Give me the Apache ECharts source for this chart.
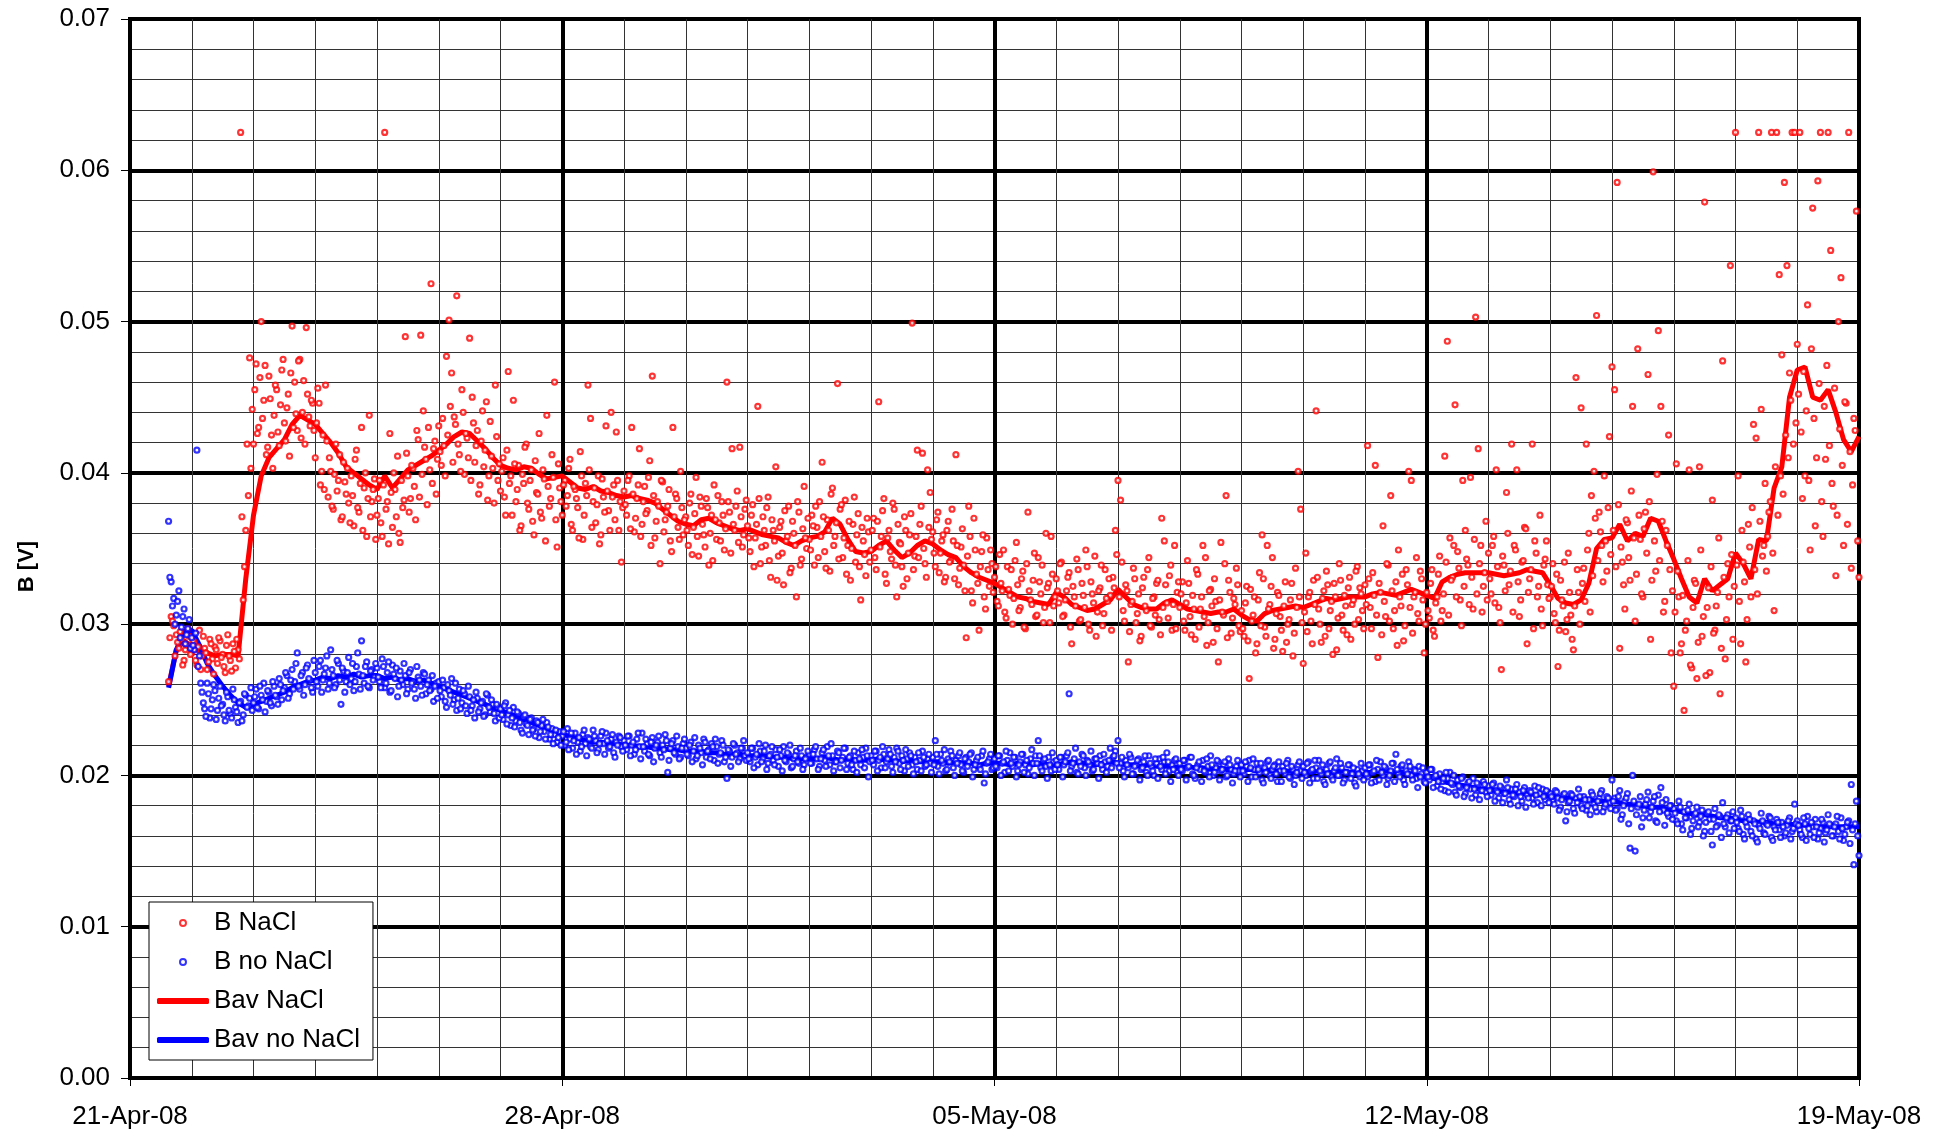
<!DOCTYPE html>
<html>
<head>
<meta charset="utf-8">
<script src="https://cdn.jsdelivr.net/npm/echarts/dist/echarts.min.js"></script>
<style>
html,body{margin:0;padding:0;background:#fff;}
#chart{width:1945px;height:1133px;}
</style>
</head>
<body>
<div id="chart"></div>
<script>
// x tick labels (every 7 days from 21-Apr-08)
const dateLabels = ['21-Apr-08', '28-Apr-08', '05-May-08', '12-May-08', '19-May-08'];
// first sample: 21-Apr-08 15:00 (in days after 21-Apr-08 00:00)
const startDay = 0.625;
const hourStep = 1 / 24;   // raw readings: on the hour and on the half hour
const halfOffset = 1 / 48;
const avgStep = 3 / 24;    // running averages: 3-hourly

// B NaCl [V], readings on the hour
const bNaCl = [
.0262,.0305,.0299,.0293,.0284,.0290,.0276,.0286,.0292,
.0281,.0288,.0273,.0296,.0279,.0284,.0270,.0290,.0277,.0285,.0274,.0289,.0280,.0268,.0293,.0276,.0287,.0271,.0283,.0625,.0316,.0362,.0385,.0403,
.0419,.0472,.0430,.0500,.0448,.0412,.0464,.0425,.0438,.0455,.0418,.0468,.0433,.0443,.0411,.0497,.0460,.0428,.0475,.0440,.0419,.0452,.0431,.0446,
.0410,.0456,.0392,.0425,.0458,.0384,.0401,.0376,.0419,.0395,.0369,.0407,.0386,.0380,.0398,.0365,.0415,.0374,.0430,.0390,.0358,.0438,.0381,.0396,
.0372,.0395,.0358,.0625,.0381,.0426,.0364,.0389,.0411,.0354,.0377,.0490,.0398,.0383,.0403,.0369,.0422,.0491,.0441,.0409,.0430,.0525,.0416,.0386,
.0431,.0405,.0418,.0477,.0501,.0466,.0437,.0517,.0412,.0455,.0399,.0423,.0489,.0450,.0407,.0428,.0392,.0441,.0415,.0382,.0434,.0403,.0458,.0395,
.0388,.0410,.0372,.0467,.0398,.0448,.0381,.0405,.0365,.0393,.0419,.0376,.0402,.0359,.0387,.0426,.0370,.0396,.0438,.0378,.0412,.0460,.0351,.0390,
.0372,.0395,.0385,.0409,.0362,.0389,.0377,.0414,.0356,.0393,.0458,.0436,.0381,.0367,.0398,.0359,.0384,.0431,.0375,.0440,.0392,.0427,.0362,.0341,
.0388,.0372,.0398,.0430,.0361,.0383,.0416,.0366,.0391,.0375,.0408,.0464,.0357,.0381,.0340,.0394,.0369,.0378,.0355,.0430,.0386,.0364,.0401,.0359,
.0371,.0352,.0386,.0364,.0397,.0345,.0378,.0359,.0383,.0339,.0372,.0392,.0356,.0367,.0381,.0349,.0460,.0374,.0416,.0362,.0388,.0417,.0351,.0376,
.0365,.0348,.0379,.0357,.0444,.0340,.0371,.0352,.0384,.0331,.0362,.0404,.0345,.0368,.0326,.0355,.0378,.0337,.0360,.0318,.0374,.0343,.0391,.0350,
.0356,.0372,.0339,.0364,.0381,.0407,.0348,.0369,.0335,.0390,.0358,.0459,.0376,.0344,.0382,.0352,.0329,.0366,.0341,.0373,.0316,.0355,.0332,.0361,
.0349,.0370,.0336,.0447,.0358,.0383,.0327,.0362,.0343,.0376,.0318,.0354,.0338,.0371,.0330,.0359,.0499,.0345,.0415,.0366,.0413,.0340,.0402,.0387,
.0361,.0338,.0374,.0347,.0359,.0331,.0368,.0342,.0355,.0412,.0326,.0351,.0339,.0291,.0378,.0322,.0370,.0333,.0296,.0348,.0318,.0357,.0325,.0340,
.0331,.0315,.0346,.0322,.0308,.0338,.0319,.0300,.0342,.0326,.0311,.0335,.0297,.0374,.0316,.0329,.0305,.0344,.0320,.0301,.0360,.0327,.0358,.0312,
.0330,.0314,.0341,.0306,.0322,.0334,.0287,.0318,.0343,.0302,.0327,.0311,.0338,.0296,.0320,.0345,.0308,.0324,.0299,.0336,.0315,.0319,.0331,.0362,
.0395,.0382,.0309,.0326,.0275,.0313,.0337,.0301,.0320,.0292,.0331,.0309,.0344,.0298,.0318,.0327,.0303,.0370,.0355,.0314,.0332,.0296,.0352,.0321,
.0311,.0328,.0296,.0342,.0305,.0319,.0290,.0333,.0310,.0352,.0344,.0301,.0323,.0288,.0315,.0275,.0354,.0306,.0385,.0329,.0294,.0317,.0337,.0299,
.0309,.0292,.0325,.0264,.0302,.0318,.0287,.0334,.0359,.0298,.0352,.0313,.0344,.0290,.0321,.0305,.0282,.0328,.0300,.0316,.0279,.0337,.0401,.0376,
.0274,.0347,.0318,.0302,.0329,.0441,.0310,.0288,.0322,.0335,.0297,.0315,.0327,.0283,.0340,.0306,.0319,.0293,.0331,.0313,.0300,.0338,.0324,.0309,
.0326,.0418,.0311,.0334,.0405,.0278,.0321,.0365,.0305,.0339,.0385,.0297,.0328,.0349,.0312,.0289,.0336,.0401,.0395,.0318,.0344,.0302,.0330,.0281,
.0321,.0304,.0336,.0292,.0318,.0345,.0309,.0411,.0487,.0357,.0331,.0445,.0348,.0316,.0395,.0362,.0339,.0397,.0310,.0503,.0416,.0352,.0325,.0368,
.0347,.0320,.0358,.0402,.0311,.0270,.0339,.0387,.0326,.0419,.0352,.0402,.0305,.0341,.0364,.0287,.0330,.0419,.0355,.0318,.0372,.0299,.0343,.0326,
.0318,.0340,.0301,.0272,.0329,.0312,.0295,.0347,.0306,.0283,.0463,.0321,.0443,.0337,.0419,.0360,.0385,.0401,.0504,.0374,.0352,.0398,.0335,.0424,
.0470,.0455,.0592,.0284,.0341,.0310,.0367,.0329,.0444,.0302,.0482,.0356,.0318,.0374,.0465,.0290,.0599,.0335,.0494,.0444,.0308,.0362,.0425,.0281,
.0259,.0406,.0318,.0287,.0243,.0302,.0402,.0271,.0329,.0264,.0404,.0292,.0579,.0311,.0268,.0382,.0296,.0321,.0254,.0474,.0277,.0340,.0537,.0290,
.0625,.0398,.0287,.0341,.0275,.0366,.0318,.0432,.0423,.0625,.0442,.0352,.0335,.0374,.0625,.0309,.0625,.0531,.0478,.0592,.0537,.0466,.0625,.0625,
.0485,.0625,.0383,.0398,.0511,.0349,.0575,.0365,.0593,.0625,.0358,.0409,.0625,.0547,.0378,.0332,.0500,.0529,.0352,.0446,.0625,.0337,.0436,.0573,
.0331
];

// B NaCl [V], readings on the half hour
const bNaClHalf = [
.0291,.0302,.0279,.0288,.0295,.0273,.0283,.0297,.0280,
.0289,.0276,.0285,.0270,.0292,.0281,.0275,.0287,.0267,.0283,.0291,.0278,.0272,.0286,.0279,.0269,.0282,.0290,.0277,.0371,.0338,.0419,.0476,.0442,
.0455,.0426,.0463,.0436,.0471,.0417,.0449,.0403,.0458,.0427,.0445,.0475,.0421,.0452,.0466,.0430,.0439,.0474,.0423,.0461,.0496,.0437,.0448,.0428,
.0433,.0446,.0401,.0389,.0421,.0410,.0378,.0399,.0388,.0412,.0371,.0394,.0403,.0367,.0385,.0409,.0377,.0393,.0362,.0400,.0383,.0371,.0389,.0356,
.0383,.0367,.0392,.0376,.0353,.0387,.0400,.0371,.0360,.0395,.0382,.0413,.0374,.0405,.0391,.0428,.0384,.0399,.0417,.0379,.0402,.0393,.0421,.0409,
.0414,.0436,.0398,.0425,.0444,.0407,.0432,.0419,.0401,.0440,.0426,.0410,.0395,.0433,.0418,.0386,.0421,.0404,.0447,.0398,.0411,.0380,.0424,.0406,
.0401,.0384,.0415,.0393,.0372,.0406,.0389,.0362,.0399,.0417,.0380,.0395,.0368,.0408,.0386,.0374,.0402,.0355,.0391,.0383,.0397,.0369,.0406,.0381,
.0392,.0378,.0403,.0366,.0391,.0383,.0357,.0398,.0372,.0385,.0402,.0364,.0390,.0379,.0353,.0396,.0374,.0388,.0362,.0384,.0369,.0395,.0381,.0377,
.0379,.0395,.0363,.0386,.0370,.0392,.0358,.0381,.0373,.0397,.0352,.0385,.0368,.0378,.0395,.0361,.0374,.0389,.0348,.0371,.0383,.0356,.0377,.0369,
.0362,.0380,.0346,.0373,.0358,.0384,.0366,.0351,.0377,.0360,.0342,.0369,.0385,.0355,.0372,.0363,.0381,.0347,.0366,.0378,.0354,.0371,.0359,.0382,
.0357,.0372,.0338,.0366,.0383,.0351,.0362,.0377,.0342,.0369,.0355,.0329,.0364,.0347,.0375,.0358,.0334,.0368,.0352,.0381,.0339,.0363,.0357,.0370,
.0349,.0365,.0378,.0344,.0358,.0371,.0337,.0362,.0386,.0352,.0367,.0343,.0379,.0357,.0333,.0368,.0350,.0384,.0359,.0338,.0364,.0346,.0370,.0341,
.0362,.0344,.0368,.0351,.0375,.0333,.0357,.0348,.0380,.0339,.0366,.0353,.0325,.0362,.0347,.0373,.0336,.0358,.0344,.0378,.0350,.0331,.0364,.0356,
.0347,.0369,.0334,.0355,.0328,.0362,.0341,.0376,.0330,.0352,.0337,.0363,.0322,.0345,.0358,.0314,.0349,.0327,.0338,.0359,.0310,.0336,.0349,.0321,
.0338,.0312,.0327,.0349,.0304,.0323,.0336,.0317,.0354,.0309,.0330,.0298,.0340,.0322,.0313,.0347,.0306,.0328,.0339,.0311,.0324,.0301,.0333,.0318,
.0322,.0340,.0305,.0316,.0331,.0298,.0325,.0312,.0336,.0303,.0319,.0349,.0300,.0328,.0314,.0292,.0322,.0339,.0307,.0317,.0330,.0296,.0324,.0346,
.0318,.0341,.0302,.0322,.0295,.0315,.0330,.0307,.0289,.0324,.0312,.0336,.0299,.0317,.0306,.0329,.0293,.0311,.0326,.0304,.0339,.0313,.0297,.0328,
.0320,.0302,.0314,.0327,.0293,.0310,.0336,.0298,.0318,.0305,.0286,.0322,.0312,.0330,.0297,.0316,.0308,.0340,.0291,.0321,.0304,.0313,.0326,.0295,
.0297,.0314,.0289,.0323,.0306,.0281,.0316,.0299,.0330,.0292,.0310,.0325,.0284,.0307,.0319,.0296,.0312,.0288,.0303,.0327,.0294,.0311,.0318,.0301,
.0308,.0295,.0321,.0287,.0313,.0331,.0300,.0317,.0292,.0326,.0309,.0280,.0318,.0304,.0329,.0296,.0312,.0324,.0290,.0316,.0335,.0303,.0320,.0297,
.0313,.0330,.0297,.0319,.0306,.0327,.0293,.0315,.0340,.0302,.0322,.0309,.0286,.0318,.0333,.0299,.0326,.0311,.0294,.0321,.0307,.0335,.0316,.0300,
.0309,.0327,.0296,.0314,.0333,.0302,.0320,.0341,.0306,.0329,.0352,.0318,.0337,.0299,.0325,.0343,.0313,.0331,.0356,.0320,.0340,.0308,.0334,.0316,
.0330,.0352,.0314,.0338,.0301,.0345,.0322,.0360,.0335,.0308,.0349,.0328,.0316,.0342,.0363,.0321,.0336,.0297,.0347,.0325,.0310,.0339,.0355,.0317,
.0325,.0307,.0333,.0296,.0316,.0341,.0303,.0321,.0290,.0312,.0336,.0300,.0327,.0315,.0349,.0308,.0332,.0370,.0342,.0361,.0328,.0355,.0377,.0346,
.0362,.0338,.0379,.0351,.0326,.0369,.0344,.0388,.0357,.0333,.0372,.0320,.0363,.0347,.0381,.0329,.0355,.0399,.0342,.0368,.0315,.0352,.0336,.0322,
.0308,.0335,.0281,.0319,.0296,.0342,.0273,.0311,.0327,.0288,.0349,.0305,.0266,.0324,.0338,.0294,.0312,.0357,.0284,.0331,.0303,.0318,.0346,.0325,
.0339,.0315,.0362,.0328,.0303,.0351,.0377,.0336,.0320,.0368,.0345,.0393,.0358,.0381,.0347,.0404,.0372,.0398,.0386,.0425,.0410,.0448,.0419,.0433,
.0452,.0427,.0467,.0441,.0395,.0482,.0436,.0410,.0459,.0381,.0444,.0471,.0418,.0393,.0456,.0372,.0429,.0405,.0447,.0366,.0414,.0392,.0428,.0355
];

// B no NaCl [V], readings on the hour
const bNoNaCl = [
.0368,.0328,.0317,.0306,.0322,.0298,.0310,.0293,.0303,
.0291,.0283,.0415,.0279,.0255,.0244,.0261,.0238,.0250,.0256,.0243,.0259,.0247,.0236,.0252,.0241,.0257,.0245,.0235,.0249,.0240,.0253,.0246,.0258,
.0248,.0257,.0244,.0253,.0261,.0249,.0255,.0246,.0259,.0252,.0264,.0250,.0258,.0266,.0254,.0270,.0262,.0281,.0257,.0268,.0260,.0273,.0263,.0255,
.0268,.0259,.0276,.0263,.0271,.0257,.0283,.0266,.0260,.0274,.0247,.0269,.0262,.0278,.0264,.0256,.0272,.0267,.0289,.0261,.0275,.0258,.0270,.0265,
.0271,.0262,.0277,.0258,.0268,.0255,.0273,.0264,.0252,.0269,.0260,.0266,.0257,.0270,.0262,.0251,.0265,.0259,.0268,.0254,.0263,.0257,.0249,.0261,
.0262,.0252,.0258,.0245,.0256,.0264,.0250,.0243,.0257,.0248,.0254,.0241,.0252,.0246,.0238,.0251,.0244,.0249,.0240,.0253,.0242,.0247,.0236,.0245,
.0244,.0237,.0248,.0240,.0233,.0245,.0236,.0241,.0230,.0239,.0234,.0227,.0238,.0231,.0236,.0225,.0233,.0229,.0235,.0224,.0231,.0227,.0222,.0229,
.0226,.0220,.0231,.0224,.0218,.0228,.0222,.0216,.0227,.0221,.0225,.0219,.0230,.0223,.0217,.0226,.0221,.0228,.0218,.0224,.0215,.0222,.0226,.0219,
.0223,.0217,.0226,.0220,.0214,.0224,.0219,.0228,.0216,.0221,.0213,.0225,.0218,.0222,.0215,.0220,.0227,.0202,.0218,.0223,.0214,.0219,.0212,.0221,
.0218,.0213,.0222,.0216,.0211,.0220,.0215,.0224,.0212,.0217,.0221,.0210,.0219,.0214,.0223,.0209,.0198,.0216,.0212,.0220,.0215,.0211,.0218,.0213,
.0215,.0209,.0218,.0212,.0207,.0216,.0211,.0220,.0208,.0214,.0210,.0217,.0206,.0213,.0219,.0209,.0214,.0205,.0211,.0216,.0208,.0213,.0207,.0212,
.0214,.0208,.0217,.0211,.0206,.0215,.0210,.0219,.0207,.0213,.0209,.0216,.0205,.0212,.0218,.0208,.0213,.0204,.0210,.0215,.0207,.0212,.0218,.0199,
.0213,.0207,.0216,.0210,.0205,.0214,.0209,.0217,.0206,.0212,.0218,.0208,.0213,.0203,.0211,.0215,.0207,.0212,.0204,.0210,.0216,.0206,.0211,.0208,
.0212,.0223,.0206,.0214,.0208,.0203,.0211,.0216,.0205,.0210,.0213,.0207,.0202,.0212,.0209,.0215,.0204,.0210,.0206,.0213,.0195,.0208,.0211,.0204,
.0211,.0205,.0213,.0208,.0202,.0210,.0215,.0206,.0212,.0203,.0209,.0214,.0207,.0201,.0211,.0208,.0213,.0223,.0205,.0210,.0206,.0212,.0203,.0209,
.0210,.0204,.0212,.0207,.0213,.0254,.0206,.0211,.0202,.0209,.0214,.0205,.0210,.0207,.0203,.0211,.0208,.0213,.0204,.0209,.0206,.0218,.0212,.0216,
.0223,.0208,.0203,.0210,.0205,.0212,.0201,.0207,.0211,.0204,.0209,.0202,.0213,.0206,.0200,.0208,.0211,.0204,.0209,.0215,.0203,.0207,.0210,.0202,
.0208,.0203,.0210,.0205,.0212,.0201,.0198,.0207,.0204,.0210,.0202,.0206,.0213,.0200,.0205,.0209,.0203,.0207,.0199,.0211,.0204,.0201,.0206,.0203,
.0207,.0201,.0206,.0210,.0199,.0204,.0208,.0202,.0197,.0205,.0209,.0200,.0204,.0207,.0196,.0203,.0206,.0201,.0210,.0198,.0204,.0200,.0207,.0203,
.0206,.0200,.0209,.0203,.0198,.0205,.0210,.0201,.0196,.0204,.0208,.0199,.0203,.0211,.0200,.0205,.0197,.0202,.0207,.0201,.0195,.0204,.0199,.0203,
.0205,.0199,.0207,.0202,.0196,.0204,.0209,.0200,.0205,.0198,.0203,.0208,.0214,.0201,.0206,.0197,.0203,.0209,.0200,.0204,.0198,.0206,.0201,.0196,
.0202,.0197,.0204,.0199,.0193,.0201,.0196,.0190,.0198,.0202,.0194,.0189,.0197,.0192,.0199,.0188,.0195,.0191,.0198,.0187,.0194,.0190,.0196,.0189,
.0193,.0187,.0195,.0190,.0185,.0192,.0188,.0197,.0184,.0191,.0186,.0194,.0189,.0183,.0192,.0187,.0190,.0185,.0193,.0182,.0188,.0191,.0184,.0189,
.0188,.0183,.0190,.0185,.0179,.0187,.0170,.0182,.0188,.0178,.0185,.0191,.0180,.0186,.0177,.0184,.0189,.0181,.0176,.0185,.0190,.0179,.0186,.0182,
.0197,.0185,.0178,.0190,.0174,.0183,.0188,.0152,.0200,.0150,.0179,.0186,.0172,.0181,.0189,.0176,.0183,.0170,.0187,.0192,.0177,.0184,.0173,.0180,
.0178,.0170,.0183,.0168,.0176,.0172,.0181,.0165,.0174,.0179,.0169,.0177,.0163,.0175,.0171,.0154,.0178,.0167,.0173,.0182,.0166,.0174,.0170,.0176,
.0172,.0165,.0177,.0161,.0169,.0174,.0163,.0170,.0158,.0167,.0175,.0162,.0168,.0173,.0159,.0166,.0171,.0164,.0169,.0160,.0167,.0172,.0163,.0181,
.0170,.0164,.0159,.0168,.0173,.0161,.0166,.0171,.0158,.0165,.0169,.0162,.0174,.0167,.0160,.0168,.0163,.0172,.0157,.0166,.0170,.0194,.0141,.0183,
.0147
];

// B no NaCl [V], readings on the half hour
const bNoNaClHalf = [
.0331,.0312,.0300,.0315,.0291,.0305,.0287,.0297,.0284,
.0286,.0294,.0272,.0261,.0248,.0239,.0254,.0244,.0260,.0237,.0251,.0246,.0240,.0255,.0243,.0238,.0250,.0242,.0248,.0236,.0254,.0245,.0251,.0243,
.0252,.0245,.0259,.0250,.0242,.0256,.0248,.0262,.0253,.0247,.0260,.0256,.0268,.0251,.0263,.0257,.0274,.0259,.0266,.0253,.0271,.0264,.0258,.0276,
.0262,.0272,.0255,.0267,.0279,.0261,.0270,.0258,.0276,.0263,.0271,.0255,.0268,.0260,.0274,.0262,.0281,.0257,.0266,.0272,.0259,.0269,.0263,.0274,
.0265,.0258,.0272,.0261,.0275,.0256,.0267,.0271,.0259,.0263,.0274,.0254,.0268,.0261,.0257,.0272,.0263,.0253,.0267,.0260,.0256,.0266,.0259,.0251,
.0256,.0263,.0249,.0260,.0253,.0247,.0261,.0251,.0244,.0256,.0246,.0259,.0243,.0250,.0255,.0242,.0248,.0239,.0254,.0245,.0250,.0241,.0247,.0238,
.0240,.0246,.0234,.0243,.0238,.0232,.0242,.0235,.0228,.0240,.0233,.0237,.0230,.0226,.0235,.0229,.0237,.0224,.0232,.0227,.0221,.0230,.0225,.0220,
.0229,.0222,.0217,.0228,.0223,.0214,.0225,.0219,.0230,.0213,.0224,.0218,.0226,.0215,.0221,.0229,.0214,.0223,.0219,.0227,.0212,.0220,.0225,.0216,
.0220,.0226,.0213,.0222,.0217,.0228,.0211,.0219,.0224,.0214,.0222,.0209,.0220,.0226,.0212,.0217,.0223,.0210,.0221,.0215,.0226,.0211,.0218,.0224,
.0214,.0220,.0209,.0225,.0213,.0218,.0207,.0222,.0216,.0211,.0219,.0224,.0208,.0215,.0220,.0212,.0217,.0206,.0221,.0214,.0209,.0218,.0223,.0210,
.0211,.0218,.0205,.0214,.0221,.0209,.0216,.0204,.0213,.0219,.0207,.0212,.0217,.0203,.0210,.0215,.0220,.0206,.0213,.0209,.0218,.0204,.0211,.0216,
.0208,.0214,.0219,.0204,.0211,.0217,.0206,.0213,.0221,.0203,.0209,.0215,.0210,.0218,.0204,.0212,.0207,.0216,.0202,.0211,.0217,.0205,.0213,.0209,
.0210,.0216,.0203,.0212,.0219,.0205,.0211,.0214,.0202,.0209,.0216,.0204,.0210,.0217,.0206,.0213,.0201,.0209,.0215,.0203,.0212,.0207,.0214,.0202,
.0207,.0214,.0201,.0210,.0217,.0204,.0209,.0213,.0200,.0208,.0215,.0203,.0211,.0206,.0214,.0199,.0207,.0212,.0204,.0216,.0201,.0209,.0214,.0205,
.0206,.0213,.0200,.0209,.0216,.0203,.0208,.0212,.0199,.0207,.0214,.0202,.0210,.0205,.0217,.0200,.0208,.0213,.0203,.0211,.0198,.0207,.0215,.0204,
.0207,.0212,.0199,.0209,.0215,.0203,.0208,.0218,.0201,.0206,.0213,.0200,.0209,.0216,.0204,.0211,.0198,.0207,.0214,.0202,.0210,.0205,.0213,.0208,
.0205,.0212,.0199,.0207,.0214,.0201,.0206,.0210,.0197,.0205,.0213,.0200,.0208,.0203,.0211,.0198,.0206,.0212,.0201,.0209,.0196,.0204,.0211,.0200,
.0204,.0210,.0197,.0206,.0212,.0200,.0205,.0209,.0196,.0203,.0211,.0199,.0207,.0202,.0210,.0197,.0204,.0209,.0200,.0207,.0195,.0203,.0210,.0199,
.0203,.0209,.0196,.0205,.0211,.0199,.0204,.0208,.0195,.0202,.0210,.0198,.0206,.0201,.0209,.0196,.0203,.0208,.0199,.0206,.0194,.0202,.0209,.0198,
.0202,.0208,.0195,.0204,.0210,.0198,.0203,.0207,.0194,.0201,.0209,.0197,.0205,.0200,.0208,.0195,.0202,.0207,.0198,.0205,.0193,.0201,.0208,.0197,
.0201,.0207,.0195,.0203,.0210,.0197,.0202,.0206,.0194,.0200,.0208,.0196,.0204,.0199,.0207,.0194,.0201,.0206,.0197,.0203,.0192,.0199,.0205,.0195,
.0199,.0204,.0192,.0200,.0196,.0191,.0198,.0202,.0189,.0195,.0200,.0187,.0193,.0198,.0186,.0192,.0196,.0185,.0191,.0195,.0184,.0190,.0194,.0186,
.0190,.0194,.0183,.0189,.0193,.0182,.0188,.0192,.0181,.0187,.0191,.0180,.0186,.0190,.0179,.0185,.0189,.0181,.0187,.0192,.0180,.0186,.0190,.0182,
.0186,.0181,.0189,.0177,.0184,.0188,.0176,.0183,.0187,.0175,.0182,.0186,.0178,.0184,.0180,.0174,.0187,.0179,.0183,.0188,.0176,.0181,.0185,.0178,
.0183,.0177,.0186,.0171,.0180,.0185,.0168,.0178,.0183,.0174,.0181,.0166,.0177,.0184,.0172,.0179,.0186,.0169,.0176,.0182,.0167,.0175,.0180,.0171,
.0175,.0168,.0179,.0164,.0172,.0177,.0161,.0170,.0175,.0166,.0173,.0160,.0169,.0176,.0163,.0171,.0166,.0174,.0159,.0168,.0172,.0162,.0170,.0165,
.0169,.0163,.0173,.0158,.0166,.0171,.0160,.0168,.0156,.0165,.0170,.0161,.0167,.0172,.0157,.0164,.0169,.0159,.0166,.0162,.0170,.0158,.0165,.0168,
.0167,.0161,.0172,.0157,.0165,.0169,.0159,.0166,.0162,.0171,.0156,.0164,.0168,.0160,.0166,.0173,.0158,.0165,.0161,.0169,.0155,.0164,.0168,.0160
];

// Bav NaCl [V], 3-hourly
const bavNaCl = [
.0259,.0283,.0289,
.0285,.0282,.0281,.0279,.0280,.0280,.0279,.0330,
.0372,.0398,.0410,.0416,.0422,.0432,.0438,.0435,
.0432,.0426,.0420,.0413,.0404,.0400,.0396,.0392,
.0389,.0398,.0390,.0396,.0402,.0405,.0408,.0411,
.0415,.0419,.0424,.0427,.0426,.0421,.0416,.0410,
.0405,.0403,.0402,.0404,.0403,.0399,.0396,.0397,
.0398,.0394,.0390,.0389,.0391,.0388,.0387,.0385,
.0384,.0385,.0383,.0382,.0380,.0376,.0372,.0368,
.0366,.0365,.0369,.0370,.0367,.0365,.0363,.0362,
.0363,.0361,.0359,.0358,.0357,.0354,.0352,.0355,
.0357,.0358,.0361,.0370,.0366,.0356,.0348,.0347,
.0348,.0352,.0355,.0349,.0344,.0347,.0352,.0355,
.0353,.0349,.0346,.0344,.0338,.0334,.0331,.0329,
.0327,.0324,.0321,.0318,.0317,.0315,.0314,.0313,
.0321,.0318,.0313,.0311,.0309,.0310,.0313,.0316,
.0323,.0318,.0313,.0311,.0310,.0310,.0314,.0316,
.0313,.0310,.0309,.0308,.0307,.0308,.0308,.0310,
.0306,.0303,.0302,.0307,.0309,.0310,.0311,.0312,
.0311,.0313,.0315,.0317,.0316,.0317,.0318,.0318,
.0318,.0320,.0321,.0320,.0319,.0321,.0323,.0321,
.0319,.0317,.0328,.0331,.0333,.0334,.0334,.0334,
.0334,.0333,.0332,.0333,.0334,.0336,.0335,.0334,
.0326,.0317,.0314,.0313,.0316,.0327,.0350,.0356,
.0357,.0366,.0355,.0360,.0358,.0370,.0368,.0355,
.0343,.0330,.0318,.0314,.0330,.0322,.0326,.0330,
.0347,.0340,.0330,.0356,.0355,.0390,.0404,.0450,
.0468,.0470,.0450,.0448,.0455,.0440,.0422,.0414,
.0424
];

// Bav no NaCl [V], 3-hourly
const bavNoNaCl = [
.0258,.0283,.0295,
.0296,.0286,.0274,.0266,.0259,.0253,.0248,.0245,
.0247,.0249,.0251,.0253,.0255,.0258,.0260,.0262,
.0263,.0265,.0264,.0266,.0265,.0267,.0265,.0266,
.0266,.0264,.0265,.0263,.0264,.0262,.0263,.0261,
.0259,.0257,.0255,.0253,.0251,.0249,.0247,.0245,
.0243,.0241,.0239,.0237,.0235,.0233,.0231,.0229,
.0227,.0226,.0224,.0223,.0222,.0222,.0221,.0221,
.0220,.0220,.0219,.0219,.0218,.0218,.0217,.0217,
.0216,.0216,.0216,.0215,.0215,.0214,.0214,.0214,
.0213,.0213,.0213,.0212,.0212,.0212,.0211,.0211,
.0211,.0211,.0212,.0211,.0210,.0211,.0210,.0210,
.0210,.0211,.0210,.0210,.0209,.0210,.0209,.0209,
.0209,.0209,.0208,.0209,.0208,.0208,.0207,.0208,
.0208,.0208,.0207,.0208,.0208,.0207,.0208,.0207,
.0207,.0208,.0209,.0208,.0208,.0207,.0208,.0209,
.0208,.0207,.0207,.0206,.0207,.0206,.0206,.0206,
.0205,.0206,.0205,.0205,.0204,.0205,.0204,.0204,
.0204,.0204,.0203,.0204,.0203,.0203,.0203,.0202,
.0203,.0202,.0203,.0202,.0202,.0203,.0202,.0202,
.0202,.0202,.0203,.0203,.0202,.0202,.0201,.0200,
.0199,.0198,.0196,.0195,.0194,.0193,.0192,.0191,
.0191,.0190,.0189,.0189,.0188,.0188,.0187,.0187,
.0186,.0186,.0185,.0185,.0184,.0184,.0183,.0183,
.0183,.0182,.0181,.0181,.0180,.0179,.0179,.0178,
.0177,.0176,.0175,.0174,.0174,.0173,.0172,.0172,
.0171,.0170,.0170,.0169,.0169,.0168,.0168,.0168,
.0167,.0167,.0167,.0166,.0166,.0166,.0166,.0166,
.0166
];

function pairs(values, step, offset) {
  return values.map((v, i) => [startDay + offset + i * step, v]);
}

const FONT = '"Liberation Sans", Arial, sans-serif';
const chart = echarts.init(document.getElementById('chart'), null, {renderer: 'canvas'});

const markerStyle = (c) => ({color: '#fff', borderColor: c, borderWidth: 2.2});

chart.setOption({
  animation: false,
  backgroundColor: '#fff',
  textStyle: {fontFamily: FONT, color: '#000'},
  grid: {
    left: 130, right: 86, top: 19, bottom: 55,
    show: true, borderColor: '#000', borderWidth: 4, backgroundColor: 'transparent'
  },
  xAxis: {
    type: 'value', min: 0, max: 28, interval: 7,
    axisLine: {show: true, onZero: false, lineStyle: {color: '#000', width: 4}},
    axisTick: {show: true, inside: false, length: 8, lineStyle: {color: '#000', width: 1}},
    axisLabel: {
      margin: 26, fontSize: 26, fontFamily: FONT, color: '#000',
      formatter: v => dateLabels[Math.round(v / 7)]
    },
    splitLine: {show: true, lineStyle: {color: '#000', width: 4}},
    minorTick: {show: false, splitNumber: 7},
    minorSplitLine: {show: true, lineStyle: {color: '#333', width: 1}}
  },
  yAxis: {
    type: 'value', min: 0, max: 0.07, interval: 0.01,
    name: 'B [V]', nameLocation: 'middle', nameGap: 92, nameRotate: 90,
    nameTextStyle: {fontSize: 22, fontWeight: 'bold', fontFamily: FONT, color: '#000', padding: [0, 36, 0, 0]},
    axisLine: {show: true, lineStyle: {color: '#000', width: 4}},
    axisTick: {show: true, inside: false, length: 9, lineStyle: {color: '#000', width: 1}},
    axisLabel: {margin: 20, fontSize: 26, fontFamily: FONT, color: '#000', formatter: v => v.toFixed(2)},
    splitLine: {show: true, lineStyle: {color: '#000', width: 4}},
    minorTick: {show: false, splitNumber: 5},
    minorSplitLine: {show: true, lineStyle: {color: '#333', width: 1}}
  },
  legend: {
    orient: 'vertical', left: 149, top: 902,
    padding: [1.5, 13, 0.5, 8], itemGap: 0, itemWidth: 52, itemHeight: 6,
    backgroundColor: '#fff', borderColor: '#000', borderWidth: 1,
    textStyle: {fontSize: 26, fontFamily: FONT, color: '#000', lineHeight: 39},
    data: [
      {name: 'B NaCl'},
      {name: 'B no NaCl'},
      {name: 'Bav NaCl', icon: 'roundRect', itemStyle: {color: '#ff0000', borderWidth: 0}},
      {name: 'Bav no NaCl', icon: 'roundRect', itemStyle: {color: '#0000ff', borderWidth: 0}}
    ]
  },
  series: [
    {
      name: 'Bav NaCl', type: 'line', data: pairs(bavNaCl, avgStep, 0),
      showSymbol: false, symbol: 'none', color: '#ff0000', z: 2,
      lineStyle: {color: '#ff0000', width: 5}
    },
    {
      name: 'Bav no NaCl', type: 'line', data: pairs(bavNoNaCl, avgStep, 0),
      showSymbol: false, symbol: 'none', color: '#0000ff', z: 2,
      lineStyle: {color: '#0000ff', width: 5}
    },
    {
      name: 'B NaCl', type: 'scatter', z: 3,
      data: pairs(bNaCl, hourStep, 0).concat(pairs(bNaClHalf, hourStep, halfOffset)),
      symbol: 'circle', symbolSize: 5, itemStyle: markerStyle('#ff0000')
    },
    {
      name: 'B no NaCl', type: 'scatter', z: 3,
      data: pairs(bNoNaCl, hourStep, 0).concat(pairs(bNoNaClHalf, hourStep, halfOffset)),
      symbol: 'circle', symbolSize: 5, itemStyle: markerStyle('#0000ff')
    }
  ]
});
</script>
</body>
</html>
